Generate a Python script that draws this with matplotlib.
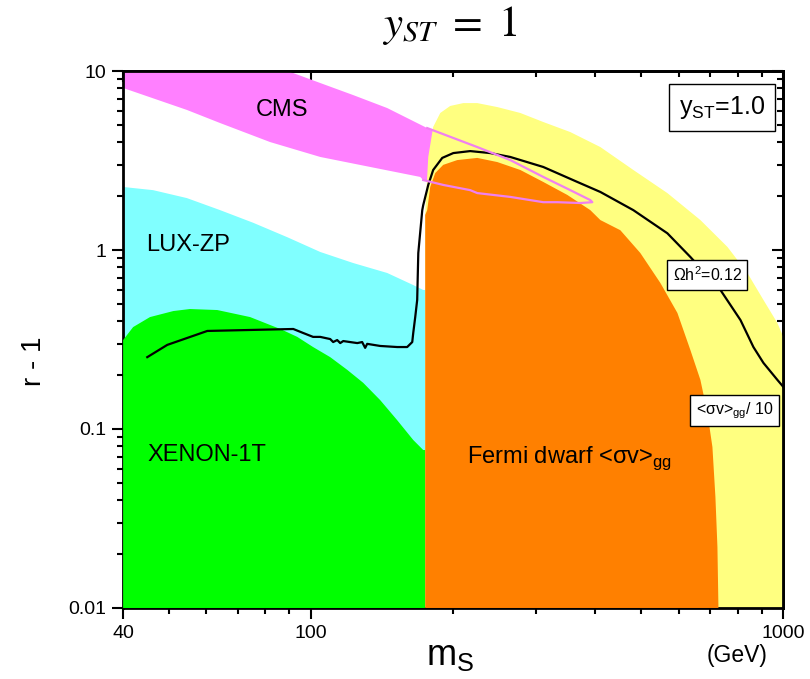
import matplotlib
matplotlib.use('Agg')
import matplotlib.pyplot as plt
import numpy as np
from matplotlib.ticker import LogLocator, NullFormatter

plt.rcParams['font.family'] = ['Liberation Sans', 'DejaVu Sans']

# CMS band: lower edge left->right, then upper edge right->left
cms_x = [40, 54.6, 64.2, 81.9, 104.6, 133.5, 170.3, 172.8, 190.5, 217.3, 224.9,
         264.2, 310.3, 332.3, 371.7, 394.1,
         390.3, 354.0, 310.3, 264.2, 224.9, 176.2, 145.0, 122.8, 104.6, 91.7, 40]
cms_y = [8.04, 6.06, 5.12, 4.01, 3.31, 2.91, 2.56, 2.46, 2.31, 2.16, 2.08,
         1.98, 1.85, 1.85, 1.83, 1.85,
         1.90, 2.16, 2.56, 3.18, 3.76, 4.80, 6.21, 7.34, 8.57, 9.74, 22]

lux_x = [40, 46.3, 54.6, 64.2, 75.4, 89.0, 104.6, 122.8, 145.0, 164.6, 172.8, 174.5,
         174.5, 40]
lux_y = [2.25, 2.16, 1.95, 1.67, 1.42, 1.18, 0.975, 0.846, 0.744, 0.637, 0.598, 0.598,
         0.01, 0.01]

xenon_x = [40, 42.0, 45.6, 51.1, 55.4, 63.3, 74.3, 86.5, 93.5, 101, 109.8, 119.3,
           129, 140.1, 152.2, 164.6, 172.8, 174.5, 174.5, 40]
xenon_y = [0.314, 0.371, 0.422, 0.456, 0.468, 0.462, 0.422, 0.36, 0.327, 0.287, 0.252,
           0.214, 0.181, 0.145, 0.112, 0.0868, 0.0763, 0.0763, 0.01, 0.01]

fermi_x = [174.5, 174.5, 176.2, 178.8, 183.2, 190.5, 204.0, 224.9, 248.0, 277.4,
           310.3, 349.0, 390.3, 409.9, 451.8, 498.1, 549.3, 596.8, 635.8, 667.6,
           690.8, 707.9, 718.3, 725.4, 729.0]
fermi_y = [0.01, 1.57, 1.67, 2.25, 2.69, 2.99, 3.18, 3.27, 3.10, 2.80,
           2.40, 2.03, 1.67, 1.47, 1.29, 0.962, 0.654, 0.445, 0.276, 0.188,
           0.123, 0.0793, 0.0417, 0.0219, 0.01]

yellow_x = [174.5, 174.5, 177.1, 181.4, 187.8, 197.1, 210.1, 224.9, 248.0, 277.4,
            310.3, 354.0, 409.9, 481.4, 568.3, 667.6, 761.8, 839.5, 907.8, 971.8,
            1000, 1000]
yellow_y = [0.01, 1.61, 3.31, 4.87, 5.83, 6.38, 6.62, 6.62, 6.29, 5.83,
            5.19, 4.56, 3.76, 2.80, 2.08, 1.47, 1.04, 0.744, 0.526, 0.391,
            0.327, 0.01]

relic_x = [45.0, 49.6, 60.3, 91.7, 96.2, 101.0, 104.6, 109.8, 111.4, 113.6, 115.3,
           117.0, 121.0, 125.3, 128.3, 130.2, 131.5, 140.1, 152.2, 159.8, 163.8,
           164.6, 166.2, 167.8, 168.7, 172.0, 172.8, 177.1, 181.4, 189.6, 200.1,
           217.3, 239.6, 264.2, 310.3, 366.4, 409.9, 481.4, 568.3, 635.8, 736.1,
           811.7, 864.5, 907.8, 971.8, 1000]
relic_y = [0.252, 0.295, 0.353, 0.362, 0.344, 0.327, 0.327, 0.318, 0.306, 0.314, 0.302,
           0.310, 0.306, 0.302, 0.306, 0.284, 0.299, 0.291, 0.287, 0.287, 0.306,
           0.344, 0.422, 0.526, 0.962, 1.67, 1.78, 2.31, 2.80, 3.27, 3.48,
           3.57, 3.48, 3.31, 2.91, 2.40, 2.11, 1.67, 1.24, 0.914, 0.598,
           0.406, 0.287, 0.234, 0.188, 0.172]


def main():
    fig = plt.figure(figsize=(8.1, 6.79), dpi=100)
    ax = fig.add_axes([0.152, 0.1046, 0.815, 0.7908])
    ax.set_xscale('log')
    ax.set_yscale('log')

    ax.fill(cms_x, cms_y, color='#ff80ff', lw=0, zorder=1)
    ax.fill(lux_x, lux_y, color='#80ffff', lw=0, zorder=2)
    ax.fill(xenon_x, xenon_y, color='#00ff00', lw=0, zorder=3)
    ax.fill(yellow_x, yellow_y, color='#ffff80', lw=0, zorder=2)
    ax.fill(fermi_x, fermi_y, color='#ff8000', lw=0, zorder=3)

    # CMS contour only shows where it runs over the Fermi regions
    cx = np.array(cms_x)
    cy = np.array(cms_y)
    keep = cx >= 172
    ax.plot(cx[keep], cy[keep], color='#f080f0', lw=1.6, zorder=6)

    ax.plot(relic_x, relic_y, color='black', lw=1.6, zorder=5)

    ax.set_xlim(40, 1000)
    ax.set_ylim(0.01, 10)

    ax.set_xticks([40, 100, 1000], labels=['40', '100', '1000'])
    ax.set_yticks([0.01, 0.1, 1, 10], labels=['0.01', '0.1', '1', '10'])
    ax.xaxis.set_minor_locator(LogLocator(subs=np.arange(1, 10)))
    ax.yaxis.set_minor_locator(LogLocator(subs=np.arange(1, 10)))
    ax.xaxis.set_minor_formatter(NullFormatter())
    ax.yaxis.set_minor_formatter(NullFormatter())
    ax.tick_params(which='major', direction='out', length=8, width=1.5, labelsize=14, pad=4)
    ax.tick_params(which='minor', direction='out', length=4.5, width=1.5)

    top = ax.secondary_xaxis('top')
    top.tick_params(which='major', direction='in', length=8, width=1.5, labeltop=False)
    top.tick_params(which='minor', direction='in', length=4.5, width=1.5)
    top.set_xticks([40, 100, 1000])
    top.xaxis.set_minor_locator(LogLocator(subs=np.arange(1, 10)))
    top.xaxis.set_major_formatter(NullFormatter())
    top.xaxis.set_minor_formatter(NullFormatter())
    right = ax.secondary_yaxis('right')
    right.tick_params(which='major', direction='in', length=8, width=1.5, labelright=False)
    right.tick_params(which='minor', direction='in', length=4.5, width=1.5)
    right.set_yticks([0.01, 0.1, 1, 10])
    right.yaxis.set_minor_locator(LogLocator(subs=np.arange(1, 10)))
    right.yaxis.set_major_formatter(NullFormatter())
    right.yaxis.set_minor_formatter(NullFormatter())
    for a in (ax, top, right):
        for s in a.spines.values():
            s.set_linewidth(2)

    ax.text(86.9, 6.05, 'CMS', fontsize=17, ha='center', va='center', zorder=7)
    ax.text(44.8, 1.07, 'LUX-ZP', fontsize=17, ha='left', va='center', zorder=7)
    ax.text(45.0, 0.0716, 'XENON-1T', fontsize=17, ha='left', va='center', zorder=7)
    ax.text(214, 0.0689, 'Fermi dwarf <σv>$_\\mathregular{gg}$', fontsize=17,
            ha='left', va='center', zorder=7)

    box = dict(boxstyle='square,pad=0.35', fc='white', ec='black', lw=1)
    ax.text(743, 6.29, 'y$_\\mathregular{ST}$=1.0', fontsize=18, ha='center', va='center',
            bbox=dict(boxstyle='square,pad=0.4', fc='white', ec='black', lw=1), zorder=8)
    ax.text(690, 0.729, 'Ωh$^\\mathregular{2}$=0.12', fontsize=11.5, ha='center', va='center',
            bbox=box, zorder=8)
    ax.text(788, 0.127, '<σv>$_\\mathregular{gg}$/ 10', fontsize=11.5, ha='center', va='center',
            bbox=box, zorder=8)

    ax.set_xlabel('m$_\\mathregular{S}$', fontsize=26)
    ax.xaxis.set_label_coords(0.495, -0.055)
    ax.set_ylabel('r - 1', fontsize=20)
    ax.yaxis.set_label_coords(-0.115, 0.46)
    fig.text(0.91, 0.035, '(GeV)', fontsize=16.5, ha='center', va='center')

    fig.text(0.555, 0.962, r'$y_{ST}\ =\ 1$', fontsize=31, ha='center', va='center',
             math_fontfamily='stix')

    fig.savefig('out.png', dpi=100)
    plt.close(fig)


if __name__ == '__main__':
    main()
